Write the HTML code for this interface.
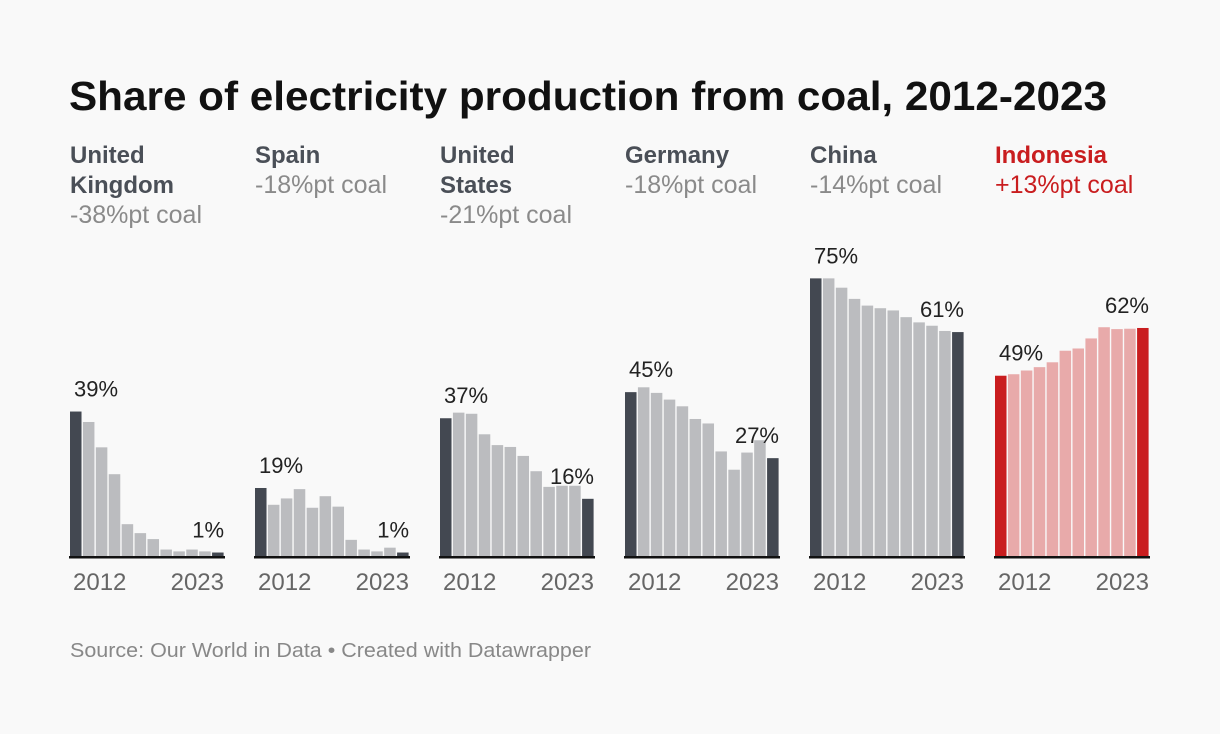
<!DOCTYPE html>
<html><head><meta charset="utf-8"><style>
body{margin:0;background:#f9f9f9;font-family:"Liberation Sans",sans-serif;}
svg{display:block}
</style></head><body>
<svg width="1220" height="734" viewBox="0 0 1220 734">
<rect width="1220" height="734" fill="#f9f9f9"/>
<text x="69" y="110" font-size="41" font-weight="bold" fill="#111" textLength="1038" lengthAdjust="spacingAndGlyphs">Share of electricity production from coal, 2012-2023</text>
<g id="panels"></g>
<text x="70" y="657" font-size="20" fill="#888" textLength="521" lengthAdjust="spacingAndGlyphs">Source: Our World in Data • Created with Datawrapper</text>
</svg>
<script>
const countries=["United Kingdom","Spain","United States","Germany","China","Indonesia"];
const nameLines=[["United","Kingdom"],["Spain"],["United","States"],["Germany"],["China"],["Indonesia"]];
const changes=["-38%pt coal","-18%pt coal","-21%pt coal","-18%pt coal","-14%pt coal","+13%pt coal"];
const ukVals=[39,36.2,29.4,22.2,8.8,6.4,4.8,2.0,1.5,2.0,1.5,1.2];
const spainVals=[18.5,14,15.7,18.2,13.2,16.3,13.5,4.6,2.0,1.5,2.5,1.2];
const usVals=[37.2,38.7,38.4,32.9,30,29.5,27.1,23,18.8,19.1,19.1,15.6];
const germanyVals=[44.2,45.5,44,42.2,40.4,37,35.8,28.3,23.4,28,31.3,26.5];
const chinaVals=[74.7,74.7,72.2,69.2,67.4,66.7,66.1,64.3,62.9,62,60.6,60.3];
const indonesiaVals=[48.6,49,50,50.9,52.2,55.3,55.9,58.6,61.6,61.1,61.2,61.4];
const firstLabels=["39%","19%","37%","45%","75%","49%"];
const lastLabels=["1%","1%","16%","27%","61%","62%"];
const yearLabels=["2012","2023"];
const allVals=[ukVals,spainVals,usVals,germanyVals,chinaVals,indonesiaVals];
const NS="http://www.w3.org/2000/svg";
const g=document.getElementById("panels");
const base=557, pxPer=3.73, pw=155, step=185, x0=70;
const y=v=>base-v*pxPer;
function mk(tag,attrs,txt){const e=document.createElementNS(NS,tag);for(const k in attrs)e.setAttribute(k,attrs[k]);if(txt!==undefined)e.textContent=txt;return e;}
countries.forEach((c,i)=>{
  const px=x0+i*step;
  const red=i===5;
  const grp=mk("g",{});
  
  
  g.appendChild(grp);
  const nameCol=red?"#c91d1f":"#4a4f57";
  nameLines[i].forEach((ln,j)=>{
    const t=mk("text",{x:px,y:163+j*30,"font-size":24,"font-weight":"bold",fill:nameCol},ln);
    
    
    grp.appendChild(t);
  });
  const ct=mk("text",{x:px,y:163+nameLines[i].length*30,"font-size":25,fill:red?"#c91d1f":"#8a8a8a"},changes[i]);
  
  
  grp.appendChild(ct);
  const vals=allVals[i];
  const n=vals.length, bw=pw/n;
  vals.forEach((v,k)=>{
    const end=k===0||k===n-1;
    const fill=red?(end?"#c91d1f":"#e8aaaa"):(end?"#434851":"#bbbcbf");
    const r=mk("rect",{x:px+k*bw,y:y(v),width:bw-1.4,height:v*pxPer,fill:fill});
    
    
    grp.appendChild(r);
  });
  const ax=mk("rect",{x:px-1,y:base-1,width:pw+1,height:2.5,fill:"#111"});
  
  
  grp.appendChild(ax);
  const fl=mk("text",{x:px+4,y:y(vals[0])-15,"font-size":22,fill:"#222"},firstLabels[i]);
  
  
  grp.appendChild(fl);
  const ll=mk("text",{x:px+pw-1,y:y(vals[n-1])-15,"font-size":22,fill:"#222","text-anchor":"end"},lastLabels[i]);
  
  
  grp.appendChild(ll);
  const y1=mk("text",{x:px+3,y:590,"font-size":24,fill:"#666"},yearLabels[0]);
  
  
  grp.appendChild(y1);
  const y2=mk("text",{x:px+pw-1,y:590,"font-size":24,fill:"#666","text-anchor":"end"},yearLabels[1]);
  
  
  grp.appendChild(y2);
});
</script>
</body></html>
